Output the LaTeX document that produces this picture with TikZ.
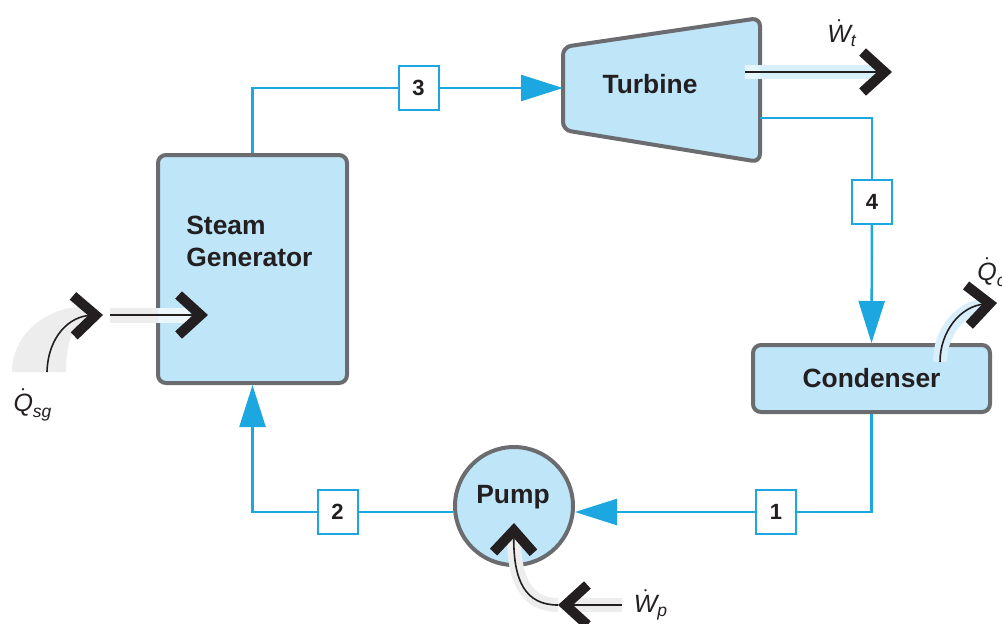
\documentclass[tikz,border=0pt]{standalone}
\usepackage{amsmath}
\usepackage{fontspec}
\setmainfont{Liberation Sans}
\usetikzlibrary{arrows.meta}
\definecolor{unitfill}{HTML}{BEE5F8}
\definecolor{unitedge}{HTML}{6B6C6F}
\definecolor{flow}{HTML}{1CA7E1}
\definecolor{haze}{HTML}{EDEDED}
\definecolor{hazeblue}{HTML}{D8EEFA}
\definecolor{ink}{HTML}{231F20}

\begin{document}
\begin{tikzpicture}[x=.5pt,y=-.5pt,line width=.35pt,font=\fontsize{13.2}{16}\selectfont\bfseries,
  unit/.style={draw=unitedge,fill=unitfill,line width=2pt,rounded corners=4pt,text=ink,inner sep=0pt},
  state/.style={draw=flow,fill=white,line width=1pt,minimum width=20pt,minimum height=22pt,inner sep=0pt,text=ink,font=\fontsize{11}{13}\selectfont\bfseries},
  pipe/.style={draw=flow,line width=1.2pt},
  feed/.style={pipe,-{Triangle[length=21pt,width=13pt]}},
  energy/.style={draw=ink,line width=.8pt,-{Straight Barb[length=11pt,width=20pt,line width=5pt,sharp]}},
  rate/.style={font=\fontsize{12.5}{15}\selectfont\mdseries\itshape,text=ink,inner sep=0pt}]
\useasboundingbox (0,0) rectangle (1002,623);
\node[unit,minimum width=94.5pt,minimum height=114pt] (sg) at (252.5,269) {};
\node[anchor=west,align=left,text=ink,inner sep=0pt] (sgname) at (186,241) {Steam\\Generator};
\draw[unit] (563,47) -- (760,18) -- (760,162) -- (563,130) -- cycle;
\node[text=ink,inner sep=0pt] (turb) at (650,84) {Turbine};
\coordinate (tin) at (563,88);
\coordinate (tout) at (760,118);
\node[unit,minimum width=118.5pt,minimum height=33.5pt] (cond) at (871.5,378.5) {Condenser};
\node[unit,circle,minimum size=59pt] (pump) at (514,506) {};
\node[text=ink,inner sep=0pt] (pumpname) at (513,497) {Pump};
\node[state] (s3) at (418.5,88) {3};
\node[state] (s4) at (872,202) {4};
\node[state] (s1) at (776,512) {1};
\node[state] (s2) at (337.5,512) {2};
\draw[pipe] (sg.north) |- (s3);
\draw[feed] (s3) -- (tin);
\draw[pipe] (tout) -| (s4);
\draw[feed] (s4) -- (cond.north);
\draw[pipe] (cond.south) |- (s1);
\draw[feed] (s1) -- (s1 -| pump.east);
\draw[pipe] (s2 -| pump.west) -- (s2);
\draw[feed] (s2) -| (sg.south);
\coordinate (qsgfoot) at (47,372);
\coordinate (qsgbend) at (103,315);
\coordinate (qsgin) at (110,315);
\coordinate (qsgtip) at (208,315);
\coordinate (wtfoot) at (745,72);
\coordinate (wttip) at (892,72);
\coordinate (qcfoot) at (940,362);
\coordinate (qctip) at (997,303);
\coordinate (wpfoot) at (622,605);
\coordinate (wpbend) at (558,605);
\coordinate (wptip) at (514,523);
\fill[haze] (12,372) .. controls (12,335) and (45,307) .. (86,306) -- (86,324) .. controls (72,324) and (66,345) .. (66,372) -- cycle;
\fill[haze] (110,308) rectangle (158,323);
\fill[white!70!unitfill] (158,308) rectangle (190,323);
\fill[white!60!unitfill] (745,65) rectangle (760,79);
\fill[hazeblue] (760,65) rectangle (880,79);
\draw[hazeblue,line width=7pt] (qcfoot) .. controls (940,332) and (960,308) .. (985,305);
\draw[haze,line width=7pt] (wpfoot) -- (570,605);
\draw[haze,line width=7pt] (wpbend) .. controls (528,605) and (514,582) .. (514,538);
\draw[energy] (qsgfoot) .. controls (48,336) and (70,316) .. (qsgbend);
\draw[energy] (qsgin) -- (qsgtip);
\draw[energy] (wtfoot) -- (wttip);
\draw[energy] (qcfoot) .. controls (940,332) and (960,306) .. (qctip);
\draw[energy] (wpfoot) -- (wpbend);
\draw[energy] (wpbend) .. controls (526,605) and (513,582) .. (wptip);
\node[rate] (qsg) at (33,405) {$\dot{\text{Q}}_{\text{sg}}$};
\node[rate] (wt) at (842,33) {$\dot{\text{W}}_{\text{t}}$};
\node[rate,anchor=west] (qc) at (977,272) {$\dot{\text{Q}}_{\text{c}}$};
\node[rate] (wp) at (651,605) {$\dot{\text{W}}_{\text{p}}$};
\end{tikzpicture}
\end{document}
